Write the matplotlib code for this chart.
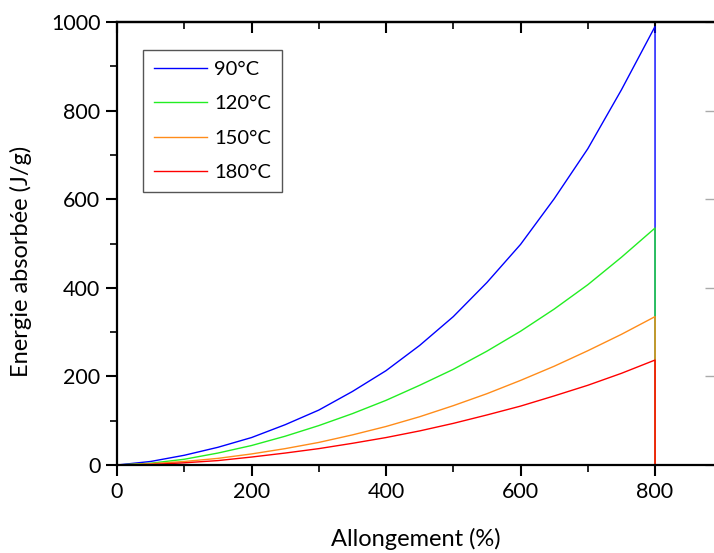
import matplotlib
matplotlib.use("Agg")
import matplotlib.pyplot as plt
from matplotlib.ticker import MultipleLocator

plt.rcParams['font.family'] = ['Lato', 'DejaVu Sans']

allongement = [0, 50, 100, 150, 200, 250, 300, 350, 400, 450, 500, 550, 600, 650, 700, 750, 800, 800]
e_90 = [0, 8, 22, 40, 62, 91, 124, 166, 213, 270, 335, 412, 498, 601, 714, 847, 990, 0]
e_120 = [0, 4, 13, 27, 44, 65, 89, 116, 146, 180, 216, 257, 302, 352, 407, 469, 535, 0]
e_150 = [0, 3, 8, 15, 25, 37, 51, 68, 87, 109, 134, 161, 191, 223, 258, 295, 335, 0]
e_180 = [0, 1, 5, 10, 18, 27, 37, 49, 62, 77, 94, 113, 133, 156, 180, 207, 237, 0]
labels = ['90°C', '120°C', '150°C', '180°C']
colors = ['#0000ff', '#22ee22', '#ff8c1a', '#ff0000']

fig = plt.figure(figsize=(7.14, 5.53), dpi=100)
ax = fig.add_axes([0.1639, 0.1591, 0.8383, 0.801])

for ys, lab, c in zip([e_90, e_120, e_150, e_180], labels, colors):
    ax.plot(allongement, ys, color=c, lw=1.0, label=lab)

ax.set_xlim(0, 890)
ax.set_ylim(0, 1000)
ax.xaxis.set_major_locator(MultipleLocator(200))
ax.xaxis.set_minor_locator(MultipleLocator(100))
ax.yaxis.set_major_locator(MultipleLocator(200))
ax.yaxis.set_minor_locator(MultipleLocator(100))
ax.tick_params(which='major', direction='out', length=8, width=1.5, labelsize=15.5, pad=4,
               top=False, right=False)
ax.tick_params(which='minor', direction='out', length=5, width=1.2, top=False, right=False)
for s in ax.spines.values():
    s.set_linewidth(1.6)

top = ax.secondary_xaxis('top')
top.xaxis.set_major_locator(MultipleLocator(200))
top.xaxis.set_minor_locator(MultipleLocator(100))
top.tick_params(which='major', direction='in', length=8, width=1.5, labeltop=False)
top.tick_params(which='minor', direction='in', length=5, width=1.2)
top.spines['top'].set_linewidth(1.6)

right = ax.secondary_yaxis('right')
right.yaxis.set_major_locator(MultipleLocator(200))
right.yaxis.set_minor_locator(MultipleLocator(1000))
right.tick_params(which='major', direction='in', length=8, width=1.0, labelright=False, color='#aaaaaa')
right.tick_params(which='minor', length=0)

ax.set_xlabel('Allongement (%)', fontsize=17, labelpad=19)
ax.set_ylabel('Energie absorbée (J/g)', fontsize=17)
ax.yaxis.set_label_coords(-0.142, 0.46)

leg = ax.legend(loc='upper left', bbox_to_anchor=(0.0434, 0.937), borderaxespad=0,
                fontsize=14.5, handlelength=2.65, handletextpad=0.35, labelspacing=0.85,
                borderpad=0.55, fancybox=False, framealpha=1, edgecolor='#555555')
leg.get_frame().set_linewidth(1.0)

fig.savefig('out.png', dpi=100)
